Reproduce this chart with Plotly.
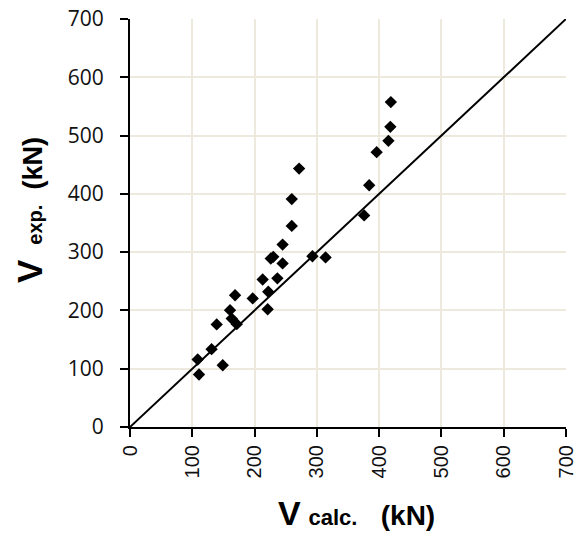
import plotly.graph_objects as go

v_calc = [110.8, 108.7, 131, 148.9, 139.2, 171.4, 160.6, 163.3, 168.7, 197, 221, 222, 213,
          236.6, 245, 230, 226, 245, 259.7, 292.9, 314, 271.5, 259.7, 375.9, 384, 396,
          414.9, 418, 418.8]
v_exp = [90, 115.8, 133.5, 106, 176, 176.5, 200.5, 186, 226, 220.6, 202, 232, 253,
         255, 280.7, 292, 289, 313, 345, 293, 291, 443.3, 391, 363, 414.8, 471.5,
         491, 515, 557.4]
line_x = [0, 700]
line_y = [0, 700]
ticks = [0, 100, 200, 300, 400, 500, 600, 700]

fig = go.Figure()
fig.add_trace(go.Scatter(x=line_x, y=line_y, mode="lines",
                         line=dict(color="black", width=2), showlegend=False))
fig.add_trace(go.Scatter(x=v_calc, y=v_exp, mode="markers",
                         marker=dict(symbol="diamond", size=9.5, color="black"),
                         showlegend=False))

axis_common = dict(range=[0, 700], tickvals=ticks, showgrid=True, gridcolor="#ede9dc",
                   gridwidth=2, zeroline=False, showline=True, linecolor="black",
                   linewidth=2, ticks="outside", ticklen=8, tickwidth=1.5,
                   tickcolor="black", mirror=False, automargin=False)
fig.update_xaxes(**axis_common, tickangle=-90,
                 tickfont=dict(family="Liberation Sans, Arial", size=20, color="#111"))
fig.update_yaxes(**axis_common, ticklabelstandoff=12,
                 tickfont=dict(family="Open Sans, sans-serif", size=21, color="#111"))

W, H = 577, 535
pl, pr, pt, pb = 130, 11, 19, 108
pw, ph = W - pl - pr, H - pt - pb

def px_to_paper(x, y):
    return (x - pl) / pw, 1 - (y - pt) / ph

xt = px_to_paper(356, 513)
yt = px_to_paper(29, 210)

fig.update_layout(
    width=W, height=H, autosize=False,
    margin=dict(l=pl, r=pr, t=pt, b=pb),
    plot_bgcolor="white", paper_bgcolor="white",
    annotations=[
        dict(text="<b><span style='font-size:34px'>V</span>&nbsp;<span style='font-size:22px'>calc.</span>&nbsp;&nbsp; (kN)</b>",
             x=xt[0], y=xt[1], xref="paper", yref="paper", showarrow=False,
             xanchor="center", yanchor="middle",
             font=dict(family="Liberation Sans, Arial", size=28, color="black")),
        dict(text="<b><span style='font-size:35px'>V</span>&nbsp; <span style='font-size:20px'>exp.</span>&nbsp; (kN)</b>",
             x=yt[0], y=yt[1], xref="paper", yref="paper", showarrow=False, textangle=-90,
             xanchor="center", yanchor="middle",
             font=dict(family="Liberation Sans, Arial", size=27, color="black")),
    ],
)

fig.write_html("out.html", config={"responsive": False},
               post_script="document.documentElement.style.overflow='hidden';"
                           "document.body.style.overflow='hidden';"
                           "document.body.style.margin='0';")
